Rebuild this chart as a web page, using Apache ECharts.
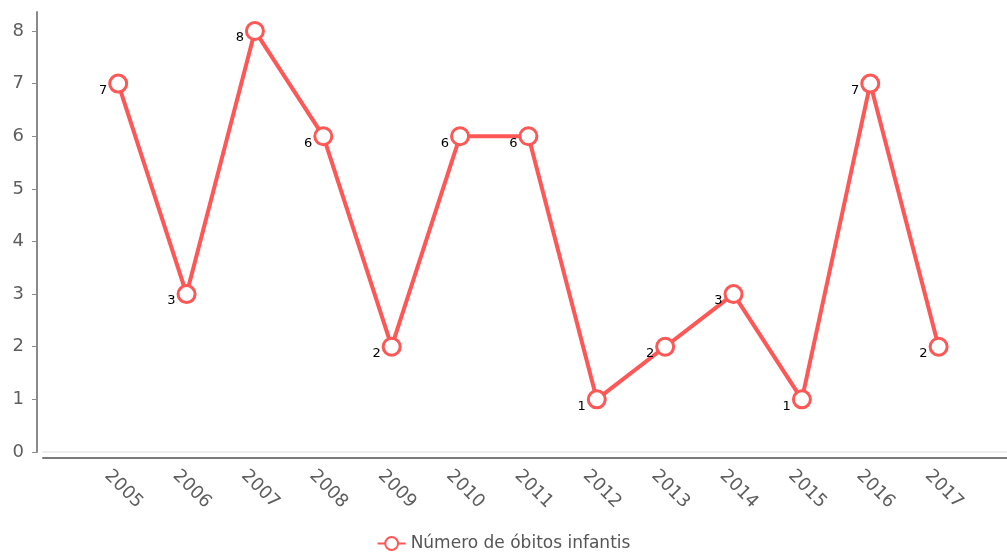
<!DOCTYPE html>
<html>
<head>
<meta charset="utf-8">
<script src="https://cdn.jsdelivr.net/npm/echarts@6/dist/echarts.min.js"></script>
<style>
  html, body { margin: 0; padding: 0; background: #fff; }
  #chart { width: 1007px; height: 557px; }
</style>
</head>
<body>
<div id="chart"></div>
<script>
// anos e número de óbitos infantis
var years = [2005, 2006, 2007, 2008, 2009, 2010, 2011, 2012, 2013, 2014, 2015, 2016, 2017];
var obitos = [7, 3, 8, 6, 2, 6, 6, 1, 2, 3, 1, 7, 2];
var yTicks = [0, 1, 2, 3, 4, 5, 6, 7, 8];
var seriesName = 'Número de óbitos infantis';

var font = 'DejaVu Sans';
var red = '#ff5656';

var points = [];
for (var i = 0; i < years.length; i++) {
  points.push([years[i], obitos[i]]);
}

var xMin = 2003.9, xMax = 2018;
// rótulos dos anos ficam um pouco à esquerda do ponto
var labelShift = 0.16;

var chart = echarts.init(document.getElementById('chart'));

var option = {
  animation: false,
  grid: {
    left: 43,
    right: 0,
    top: 12,
    bottom: 105
  },
  legend: {
    bottom: 0,
    left: 'center',
    itemWidth: 28,
    itemHeight: 16,
    itemGap: 10,
    textStyle: {
      fontFamily: font,
      fontSize: 17,
      color: '#555'
    },
    data: [seriesName]
  },
  xAxis: [{
    // linha clara no zero
    type: 'value',
    position: 'bottom',
    min: xMin,
    max: xMax,
    axisLine: {
      show: true,
      onZero: false,
      lineStyle: { color: '#eeeeee', width: 2 }
    },
    axisTick: { show: false },
    axisLabel: { show: false },
    splitLine: { show: false }
  }, {
    type: 'value',
    position: 'bottom',
    min: xMin,
    max: xMax,
    offset: 6,
    axisLine: {
      show: true,
      onZero: false,
      lineStyle: { color: '#7a7a7a', width: 2 }
    },
    axisTick: { show: false },
    splitLine: { show: false },
    axisLabel: { show: false }
  }, {
    // só os rótulos dos anos
    type: 'value',
    position: 'bottom',
    min: xMin + labelShift,
    max: xMax + labelShift,
    offset: 6,
    axisLine: { show: false, onZero: false },
    axisTick: { show: false },
    splitLine: { show: false },
    axisLabel: {
      customValues: years,
      formatter: function (v) { return String(v); },
      rotate: -45,
      margin: 15,
      fontFamily: font,
      fontSize: 18,
      color: '#5e5e5e'
    }
  }],
  yAxis: {
    type: 'value',
    min: 0,
    max: 8.36,
    offset: 6,
    axisLine: {
      show: true,
      onZero: false,
      lineStyle: { color: '#8a8a8a', width: 2 }
    },
    axisTick: {
      show: true,
      length: 5,
      customValues: yTicks,
      lineStyle: { color: '#8a8a8a', width: 1 }
    },
    splitLine: { show: false },
    axisLabel: {
      customValues: yTicks,
      margin: 13,
      fontFamily: font,
      fontSize: 18,
      color: '#5e5e5e'
    }
  },
  series: [{
    name: seriesName,
    type: 'line',
    xAxisIndex: 1,
    data: points,
    symbol: 'circle',
    symbolSize: 17,
    lineStyle: { color: red, width: 4 },
    itemStyle: {
      color: '#fff',
      borderColor: red,
      borderWidth: 3
    },
    label: {
      show: true,
      position: 'left',
      distance: 1,
      offset: [0, 7],
      fontFamily: font,
      fontSize: 13,
      color: '#000'
    }
  }]
};

chart.setOption(option);
</script>
</body>
</html>
